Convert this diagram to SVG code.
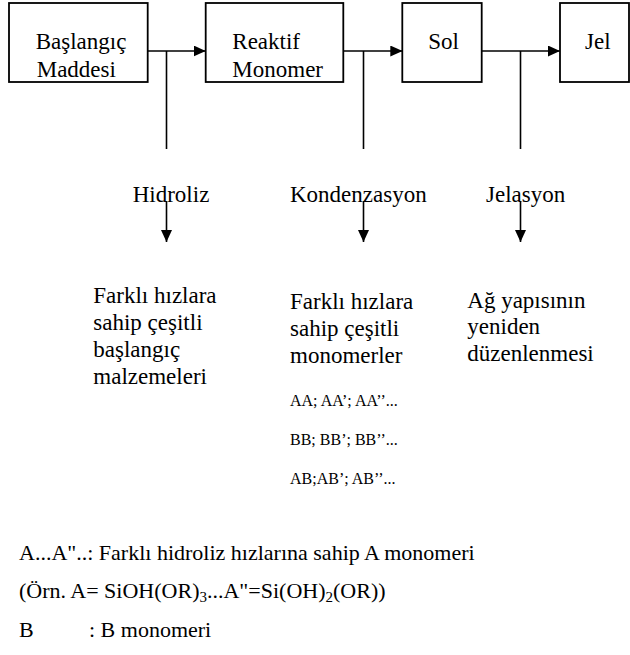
<svg xmlns="http://www.w3.org/2000/svg" width="630" height="655" viewBox="0 0 630 655">
<style>
text{font-family:"Liberation Serif","Times New Roman",serif;fill:#000}
.t{font-size:23px}
.s{font-size:16px}
.b{font-size:22px}
.box{fill:#fff;stroke:#000;stroke-width:1.8}
.ln{stroke:#000;stroke-width:1.6;fill:none}
</style>
<defs>
<marker id="ah" viewBox="0 0 12 11" refX="12" refY="5.5" markerWidth="12" markerHeight="11" markerUnits="userSpaceOnUse" orient="auto">
<path d="M0,0 L12,5.5 L0,11 Z" fill="#000"/>
</marker>
</defs>
<rect width="630" height="655" fill="#fff"/>
<g id="connectors">
<line class="ln" x1="147.7" y1="51" x2="205.7" y2="51" marker-end="url(#ah)"/>
<line class="ln" x1="343.3" y1="51" x2="402.3" y2="51" marker-end="url(#ah)"/>
<line class="ln" x1="481.7" y1="51" x2="560" y2="51" marker-end="url(#ah)"/>
<line class="ln" x1="166.5" y1="51" x2="166.5" y2="149"/>
<line class="ln" x1="363.5" y1="51" x2="363.5" y2="149"/>
<line class="ln" x1="520.5" y1="51" x2="520.5" y2="149"/>
<line class="ln" x1="166.5" y1="201" x2="166.5" y2="242" marker-end="url(#ah)"/>
<line class="ln" x1="363.5" y1="201" x2="363.5" y2="242" marker-end="url(#ah)"/>
<line class="ln" x1="520.5" y1="201" x2="520.5" y2="242" marker-end="url(#ah)"/>
</g>
<g id="baslangic">
<rect class="box" x="9" y="3" width="138.7" height="79"/>
<text class="t" x="35.7" y="49">Başlangıç</text>
<text class="t" x="36.7" y="77">Maddesi</text>
</g>
<g id="reaktif">
<rect class="box" x="205.7" y="3" width="137.6" height="79"/>
<text class="t" x="232.3" y="49">Reaktif</text>
<text class="t" x="232.3" y="77">Monomer</text>
</g>
<g id="sol">
<rect class="box" x="402.3" y="3" width="79.4" height="79"/>
<text class="t" x="428.3" y="49">Sol</text>
</g>
<g id="jel">
<rect class="box" x="560" y="3" width="69" height="79"/>
<text class="t" x="585" y="49">Jel</text>
</g>
<g id="labels">
<text class="t" x="132.7" y="202">Hidroliz</text>
<text class="t" x="290" y="202">Kondenzasyon</text>
<text class="t" x="486" y="202">Jelasyon</text>
</g>
<g id="col1">
<text class="t" x="93.3" y="303">Farklı hızlara</text>
<text class="t" x="93.3" y="330">sahip çeşitli</text>
<text class="t" x="93.3" y="357">başlangıç</text>
<text class="t" x="93.3" y="384">malzemeleri</text>
</g>
<g id="col2">
<text class="t" x="290" y="309">Farklı hızlara</text>
<text class="t" x="290" y="336">sahip çeşitli</text>
<text class="t" x="290" y="363">monomerler</text>
<text class="s" x="290" y="406">AA; AA’; AA’’...</text>
<text class="s" x="290" y="445">BB; BB’; BB’’...</text>
<text class="s" x="290" y="484">AB;AB’; AB’’...</text>
</g>
<g id="col3">
<text class="t" x="467.3" y="307.5">Ağ yapısının</text>
<text class="t" x="467.3" y="334">yeniden</text>
<text class="t" x="467.3" y="361">düzenlenmesi</text>
</g>
<g id="legend">
<text class="b" x="19" y="560">A...A"..: Farklı hidroliz hızlarına sahip A monomeri</text>
<text class="b" x="19" y="598">(Örn. A= SiOH(OR)<tspan font-size="15" dy="4">3</tspan><tspan dy="-4">...A"=Si(OH)</tspan><tspan font-size="15" dy="4">2</tspan><tspan dy="-4">(OR))</tspan></text>
<text class="b" x="19" y="637">B</text>
<text class="b" x="89" y="637">: B monomeri</text>
</g>
</svg>
